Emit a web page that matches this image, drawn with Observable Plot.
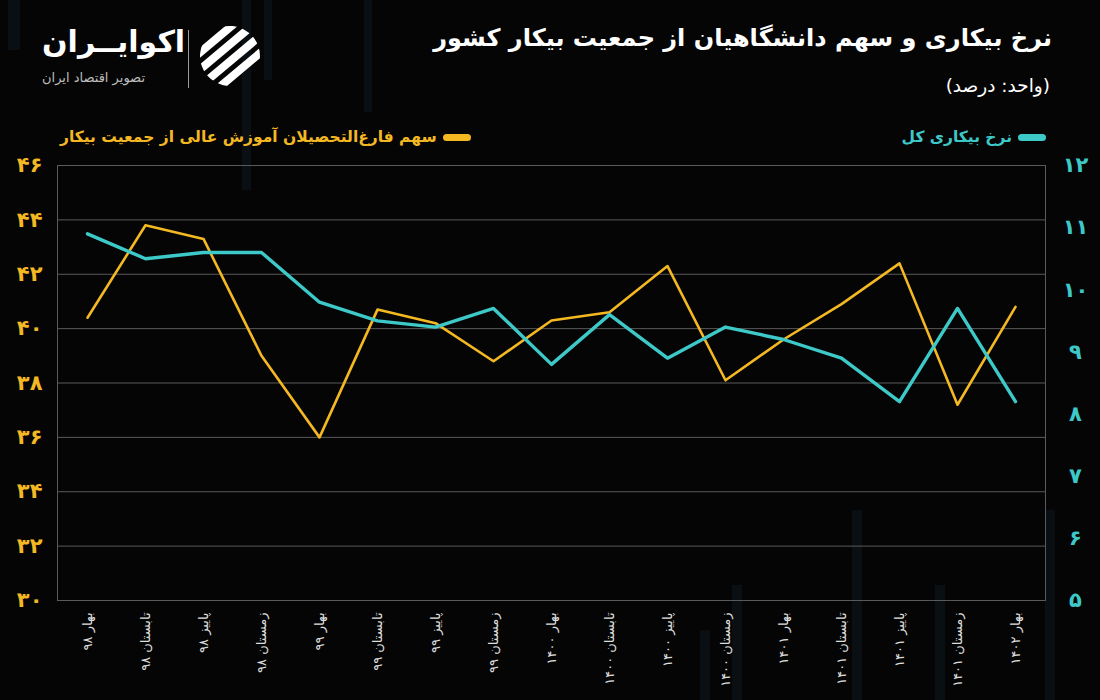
<!DOCTYPE html>
<html>
<head>
<meta charset="utf-8">
<script src="https://cdn.jsdelivr.net/npm/d3@7"></script>
<script src="https://cdn.jsdelivr.net/npm/@observablehq/plot@0.6"></script>
<style>
  html, body { margin: 0; padding: 0; background: #050505; }
  #root { position: relative; width: 1100px; height: 700px; background: #050505; overflow: hidden; font-family: "DejaVu Sans", "Noto Sans", sans-serif; }
  #header { position: relative; width: 1100px; height: 155px; }
  .abs { position: absolute; white-space: nowrap; }
  #title { right: 48px; top: 24px; font-size: 24px; font-weight: bold; color: #ffffff; direction: rtl; }
  #unit { right: 50px; top: 75px; font-size: 18.5px; color: #ffffff; direction: rtl; }
  .legend { top: 128px; font-size: 15.5px; font-weight: bold; direction: rtl; display: flex; align-items: center; gap: 6px; }
  .sw { display: inline-block; width: 28px; height: 7px; border-radius: 4px; }
  #brand { left: 42px; top: 24px; font-size: 30px; font-weight: bold; color: #fff; direction: rtl; }
  #brandsub { left: 42px; top: 70px; font-size: 13px; color: #bdbdbd; direction: rtl; }
  #sep { left: 188px; top: 30px; width: 1px; height: 58px; background: #9a9a9a; }
  #icon { left: 198px; top: 24px; }
  #chart { position: relative; }
  .bgbar { position: absolute; background: rgba(25, 60, 75, 0.18); }
</style>
</head>
<body>
<div id="root">
  <div class="bgbar" style="left:8px;top:0;width:12px;height:50px"></div>
  <div class="bgbar" style="left:242px;top:0;width:9px;height:190px"></div>
  <div class="bgbar" style="left:264px;top:0;width:8px;height:80px"></div>
  <div class="bgbar" style="left:364px;top:0;width:8px;height:112px"></div>
  <div class="bgbar" style="left:700px;top:630px;width:10px;height:70px"></div>
  <div class="bgbar" style="left:732px;top:585px;width:10px;height:115px"></div>
  <div class="bgbar" style="left:852px;top:510px;width:10px;height:190px"></div>
  <div class="bgbar" style="left:935px;top:585px;width:10px;height:115px"></div>
  <div class="bgbar" style="left:1045px;top:510px;width:10px;height:190px"></div>
  <div id="header">
    <div id="title" class="abs">نرخ بیکاری و سهم دانشگاهیان از جمعیت بیکار کشور</div>
    <div id="unit" class="abs">(واحد: درصد)</div>
    <div id="legendRight" class="abs legend" style="right:54px;color:#3ec9c9"><span class="sw" style="background:#3ec9c9"></span><span id="lgR"></span></div>
    <div id="legendLeft" class="abs legend" style="left:60px;color:#f4b822"><span class="sw" style="background:#f4b822"></span><span id="lgL"></span></div>
    <div id="brand" class="abs">اکوایــران</div>
    <div id="brandsub" class="abs">تصویر اقتصاد ایران</div>
    <div id="sep" class="abs"></div>
    <svg id="icon" class="abs" width="64" height="64" viewBox="0 0 64 64">
      <defs><clipPath id="cc"><circle cx="32" cy="32" r="30"/></clipPath></defs>
      <g clip-path="url(#cc)" transform="rotate(-40 32 32)">
        <rect x="-10" y="6" width="84" height="8" fill="#fff"/>
        <rect x="-10" y="19" width="84" height="8" fill="#fff"/>
        <rect x="-10" y="32" width="84" height="8" fill="#fff"/>
        <rect x="-10" y="45" width="84" height="8" fill="#fff"/>
      </g>
    </svg>
  </div>
  <div id="chart"></div>
</div>
<script>
const categories = ["بهار ۹۸","تابستان ۹۸","پاییز ۹۸","زمستان ۹۸","بهار ۹۹","تابستان ۹۹","پاییز ۹۹","زمستان ۹۹","بهار ۱۴۰۰","تابستان ۱۴۰۰","پاییز ۱۴۰۰","زمستان ۱۴۰۰","بهار ۱۴۰۱","تابستان ۱۴۰۱","پاییز ۱۴۰۱","زمستان ۱۴۰۱","بهار ۱۴۰۲"];
const graduateShare = [40.4,43.8,43.3,39.0,36.0,40.7,40.2,38.8,40.3,40.6,42.3,38.1,39.6,40.9,42.4,37.2,40.8];
const unemploymentRate = [10.9,10.5,10.6,10.6,9.8,9.5,9.4,9.7,8.8,9.6,8.9,9.4,9.2,8.9,8.2,9.7,8.2];
const leftTicks = [30,32,34,36,38,40,42,44,46];
const rightTicks = [5,6,7,8,9,10,11,12];
const seriesNames = ["سهم فارغ‌التحصیلان آموزش عالی از جمعیت بیکار", "نرخ بیکاری کل"];

document.getElementById("lgL").textContent = seriesNames[0];
document.getElementById("lgR").textContent = seriesNames[1];

const faDigits = "۰۱۲۳۴۵۶۷۸۹";
const toFa = n => String(n).replace(/\d/g, d => faDigits[+d]);

// map right-axis values (5..12) onto left scale (30..46)
const L0 = 30, L1 = 46, R0 = 5, R1 = 12;
const r2l = v => L0 + (v - R0) * (L1 - L0) / (R1 - R0);

const shareData = categories.map((c, i) => ({c, v: graduateShare[i]}));
const rateData = categories.map((c, i) => ({c, v: r2l(unemploymentRate[i])}));

const GOLD = "#f4b822", CYAN = "#3ec9c9";

const chart = Plot.plot({
  width: 1100,
  height: 545,
  marginTop: 10,
  marginBottom: 100,
  marginLeft: 57,
  marginRight: 55,
  style: {background: "transparent", fontFamily: "DejaVu Sans, sans-serif", overflow: "visible"},
  x: {type: "point", domain: categories, padding: 0.45, label: null},
  y: {domain: [L0, L1], label: null},
  marks: [
    Plot.gridY(leftTicks, {stroke: "#5a5a5a", strokeOpacity: 1, strokeWidth: 1}),
    Plot.frame({stroke: "#5a5a5a", strokeWidth: 1}),
    Plot.axisY(leftTicks, {anchor: "left", label: null, tickSize: 0, tickPadding: 15, tickFormat: toFa, fill: GOLD, fontSize: 21, fontWeight: "bold"}),
    Plot.axisY(rightTicks.map(r2l), {anchor: "right", label: null, tickSize: 0, tickPadding: 30, textAnchor: "middle", tickFormat: d => toFa(Math.round(R0 + (d - L0) * (R1 - R0) / (L1 - L0))), fill: CYAN, fontSize: 21, fontWeight: "bold"}),
    Plot.axisX({anchor: "bottom", label: null, tickSize: 0, tickPadding: 12, tickRotate: -90, fill: "#dddddd", fontSize: 13}),
    Plot.line(shareData, {x: "c", y: "v", stroke: GOLD, strokeWidth: 2.6}),
    Plot.line(rateData, {x: "c", y: "v", stroke: CYAN, strokeWidth: 3.4})
  ]
});
document.getElementById("chart").appendChild(chart);
</script>
</body>
</html>
